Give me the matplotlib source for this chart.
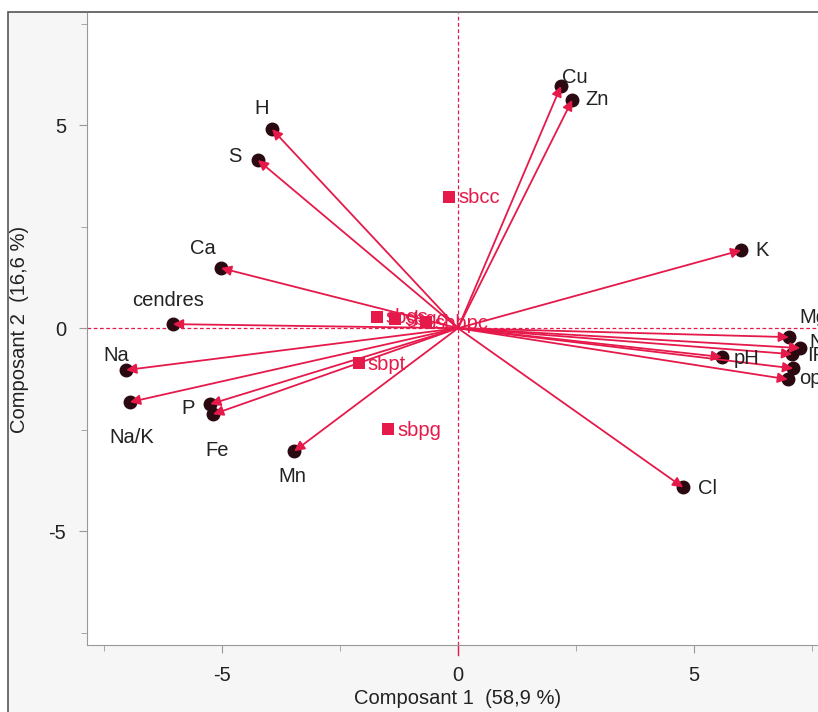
import matplotlib
matplotlib.use('Agg')
import matplotlib.pyplot as plt
from matplotlib.patches import Rectangle

# Variable loadings (arrows) and observation scores (squares)
var_names = ['H', 'S', 'Cu', 'Zn', 'K', 'Ca', 'cendres', 'Na', 'Na/K', 'P', 'Fe',
             'Mn', 'Cl', 'Mg', 'pH', 'Ni', 'IR', 'Se', 'op']
var_x = [-3.94, -4.24, 2.18, 2.42, 6.00, -5.02, -6.04, -7.03, -6.95, -5.25, -5.19,
         -3.47, 4.77, 7.01, 5.59, 7.25, 7.08, 7.10, 6.99]
var_y = [4.90, 4.14, 5.96, 5.62, 1.92, 1.48, 0.10, -1.03, -1.82, -1.87, -2.12,
         -3.03, -3.92, -0.22, -0.71, -0.49, -0.64, -0.99, -1.26]

obs_names = ['sbcc', 'sbpt', 'sbpg', 'sbgs', 'sbgc', 'sbbpc']
obs_x = [-0.19, -2.10, -1.48, -1.72, -1.33, -0.68]
obs_y = [3.23, -0.86, -2.49, 0.28, 0.23, 0.15]

pc1_label = 'Composant 1  (58,9 %)'
pc2_label = 'Composant 2  (16,6 %)'

# label offsets in pixels (dx, dy-down) and alignment
var_offsets = {
    'H': (-10, -21, 'center'), 'S': (-23, -4, 'center'), 'Cu': (14, -9, 'center'),
    'Zn': (25, 0, 'center'), 'K': (21, 0, 'center'), 'Ca': (-18, -20, 'center'),
    'cendres': (-5, -24, 'center'), 'Na': (-10, -15, 'center'),
    'Na/K': (2, 35, 'center'), 'P': (-22, 4, 'center'), 'Fe': (4, 36, 'center'),
    'Mn': (-2, 25, 'center'), 'Cl': (24, 1, 'center'), 'Mg': (10, -20, 'left'),
    'pH': (12, 1, 'left'), 'Ni': (9, -6, 'left'), 'IR': (15, 1, 'left'),
    'Se': (40, 0, 'left'), 'op': (11, -1, 'left'),
}

RED = '#e5194a'
DARK = '#2a0a10'
FS = 14.5

plt.rcParams['font.family'] = ['Liberation Sans', 'DejaVu Sans']
plt.rcParams['axes.unicode_minus'] = False

fig = plt.figure(figsize=(8.18, 7.12), dpi=100, facecolor='white')
fig.patches.append(Rectangle((8 / 818, -0.1), 1.2, 1 - 12 / 712 + 0.1,
                             transform=fig.transFigure, facecolor='#f6f6f6',
                             edgecolor='#555555', lw=1.2, zorder=-5))
ax = fig.add_axes([87 / 818, 1 - 645 / 712, 742 / 818, 632 / 712])
ax.set_facecolor('white')
ax.set_xlim(-7.86, 7.86)
ax.set_ylim(-7.8, 7.76)

ax.axhline(0, color=RED, lw=0.9, ls=(0, (3, 2)), zorder=1)
ax.axvline(0, color=RED, lw=0.9, ls=(0, (3, 2)), zorder=1)
ax.plot([0, 0], [-7.8, -8.05], color=RED, lw=1, clip_on=False)

px = 0.72  # points per pixel at 100 dpi
for name, x, y in zip(var_names, var_x, var_y):
    ax.plot(x, y, 'o', ms=9, color=DARK, zorder=3)
    ax.annotate('', xy=(x, y), xytext=(0, 0),
                arrowprops=dict(arrowstyle='-|>', color=RED, lw=1.3,
                                mutation_scale=15, shrinkA=0, shrinkB=0),
                zorder=4)
    dx, dy, ha = var_offsets[name]
    ax.annotate(name, (x, y), xytext=(dx * px, -dy * px), textcoords='offset points',
                ha=ha, va='center', fontsize=FS, color='#222222', zorder=5)

ax.scatter(obs_x, obs_y, marker='s', s=70, color=RED, zorder=5, linewidths=0)
for name, x, y in zip(obs_names, obs_x, obs_y):
    ax.annotate(name, (x, y), xytext=(9 * px, -1 * px), textcoords='offset points',
                ha='left', va='center', fontsize=FS, color=RED, zorder=5)

ax.set_xticks([-5, 0, 5])
ax.set_yticks([-5, 0, 5])
ax.set_xticks([-7.5, -2.5, 2.5, 7.5], minor=True)
ax.set_yticks([-7.5, -2.5, 2.5, 7.5], minor=True)
ax.tick_params(which='both', direction='out', color='#999999', labelcolor='#222222',
               labelsize=FS)
ax.tick_params(which='major', length=6, pad=9)
ax.tick_params(which='minor', length=4)
for s in ['top', 'right']:
    ax.spines[s].set_visible(False)
for s in ['left', 'bottom']:
    ax.spines[s].set_color('#999999')

ax.set_xlabel(pc1_label, fontsize=FS, color='#222222', labelpad=3)
ax.set_ylabel(pc2_label, fontsize=FS, color='#222222', labelpad=14)

fig.savefig('out.png', dpi=100, facecolor=fig.get_facecolor())
